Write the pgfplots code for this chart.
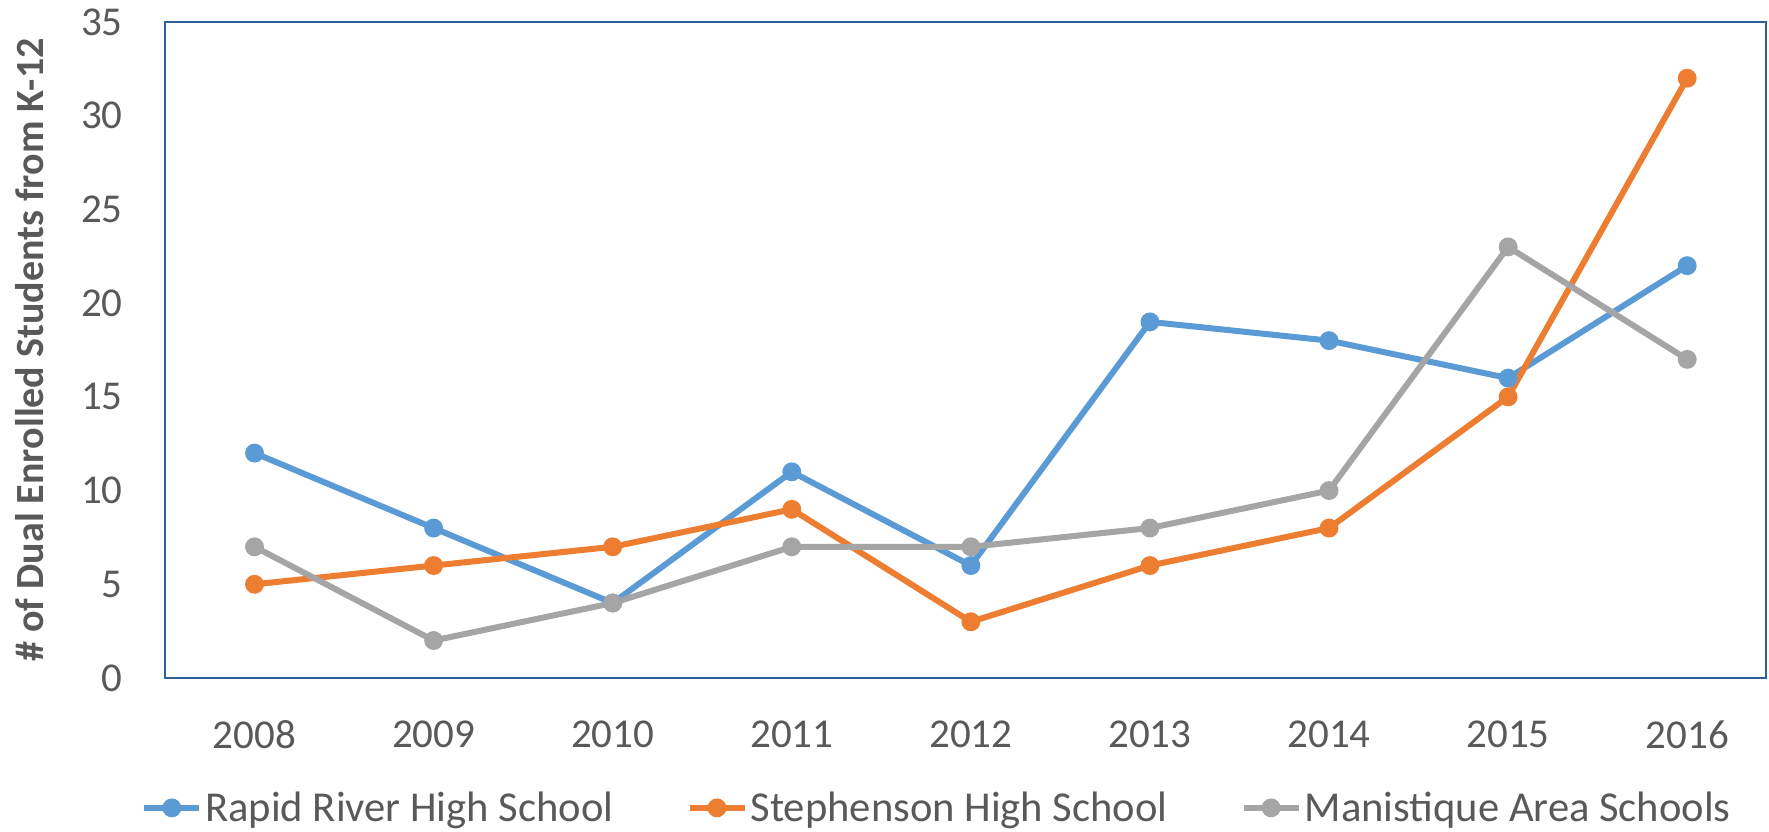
\documentclass[border=0pt]{standalone}
\usepackage{fontspec}
\setmainfont{Carlito}
\usepackage{pgfplots}
\pgfplotsset{compat=1.18}
\definecolor{cBlue}{HTML}{5B9BD5}
\definecolor{cOrange}{HTML}{ED7D31}
\definecolor{cGray}{HTML}{A5A5A5}
\definecolor{cText}{HTML}{595959}
\definecolor{cFrame}{HTML}{2E6299}
\begin{document}
\begin{tikzpicture}
\begin{axis}[
  name=ax,
  at={(0,0)}, anchor=south west,
  scale only axis,
  width=800.5pt, height=328pt,
  xmin=-0.5, xmax=8.44,
  ymin=0, ymax=35,
  xtick={0,...,8},
  xticklabels={2008,2009,2010,2011,2012,2013,2014,2015,2016},
  ytick={0,5,...,35},
  axis line style={cFrame, line width=1pt},
  major tick length=0pt,
  tick style={draw=none},
  /pgf/number format/assume math mode=true,
  ticklabel style={font=\fontsize{20.5}{24}\selectfont, text=cText},
  yticklabel style={anchor=east, inner sep=0pt, xshift=-21pt},
  xticklabel style={anchor=north, inner sep=0pt, yshift=-21pt},
  ylabel={\# of Dual Enrolled Students from K-12},
  ylabel style={at={(axis description cs:-0.0843,0.5)}, anchor=center, rotate=0, font=\bfseries\fontsize{20}{24}\selectfont, text=cText},
  every axis plot/.append style={line width=3pt, mark=*, mark options={scale=1.6, solid}},
  legend columns=3,
  legend style={draw=none, fill=none, at={(axis description cs:0.4825,-0.198)}, anchor=center,
    font=\fontsize{21.3}{25}\selectfont, text=cText,
    /tikz/every even column/.append style={column sep=35pt},
    nodes={inner sep=1.5pt}},
  legend image code/.code={\draw[mark repeat=2,mark phase=2,#1] plot coordinates {(0pt,0pt) (13.75pt,0pt) (27.5pt,0pt)};},
]
\addplot[color=cBlue] coordinates {(0,12) (1,8) (2,4) (3,11) (4,6) (5,19) (6,18) (7,16) (8,22)};
\addplot[color=cOrange] coordinates {(0,5) (1,6) (2,7) (3,9) (4,3) (5,6) (6,8) (7,15) (8,32)};
\addplot[color=cGray] coordinates {(0,7) (1,2) (2,4) (3,7) (4,7) (5,8) (6,10) (7,23) (8,17)};
\legend{Rapid River High School, Stephenson High School, Manistique Area Schools}
\end{axis}
\pgfresetboundingbox
\useasboundingbox (-82.5pt,-76.5pt) rectangle (802pt,339pt);
\end{tikzpicture}
\end{document}
